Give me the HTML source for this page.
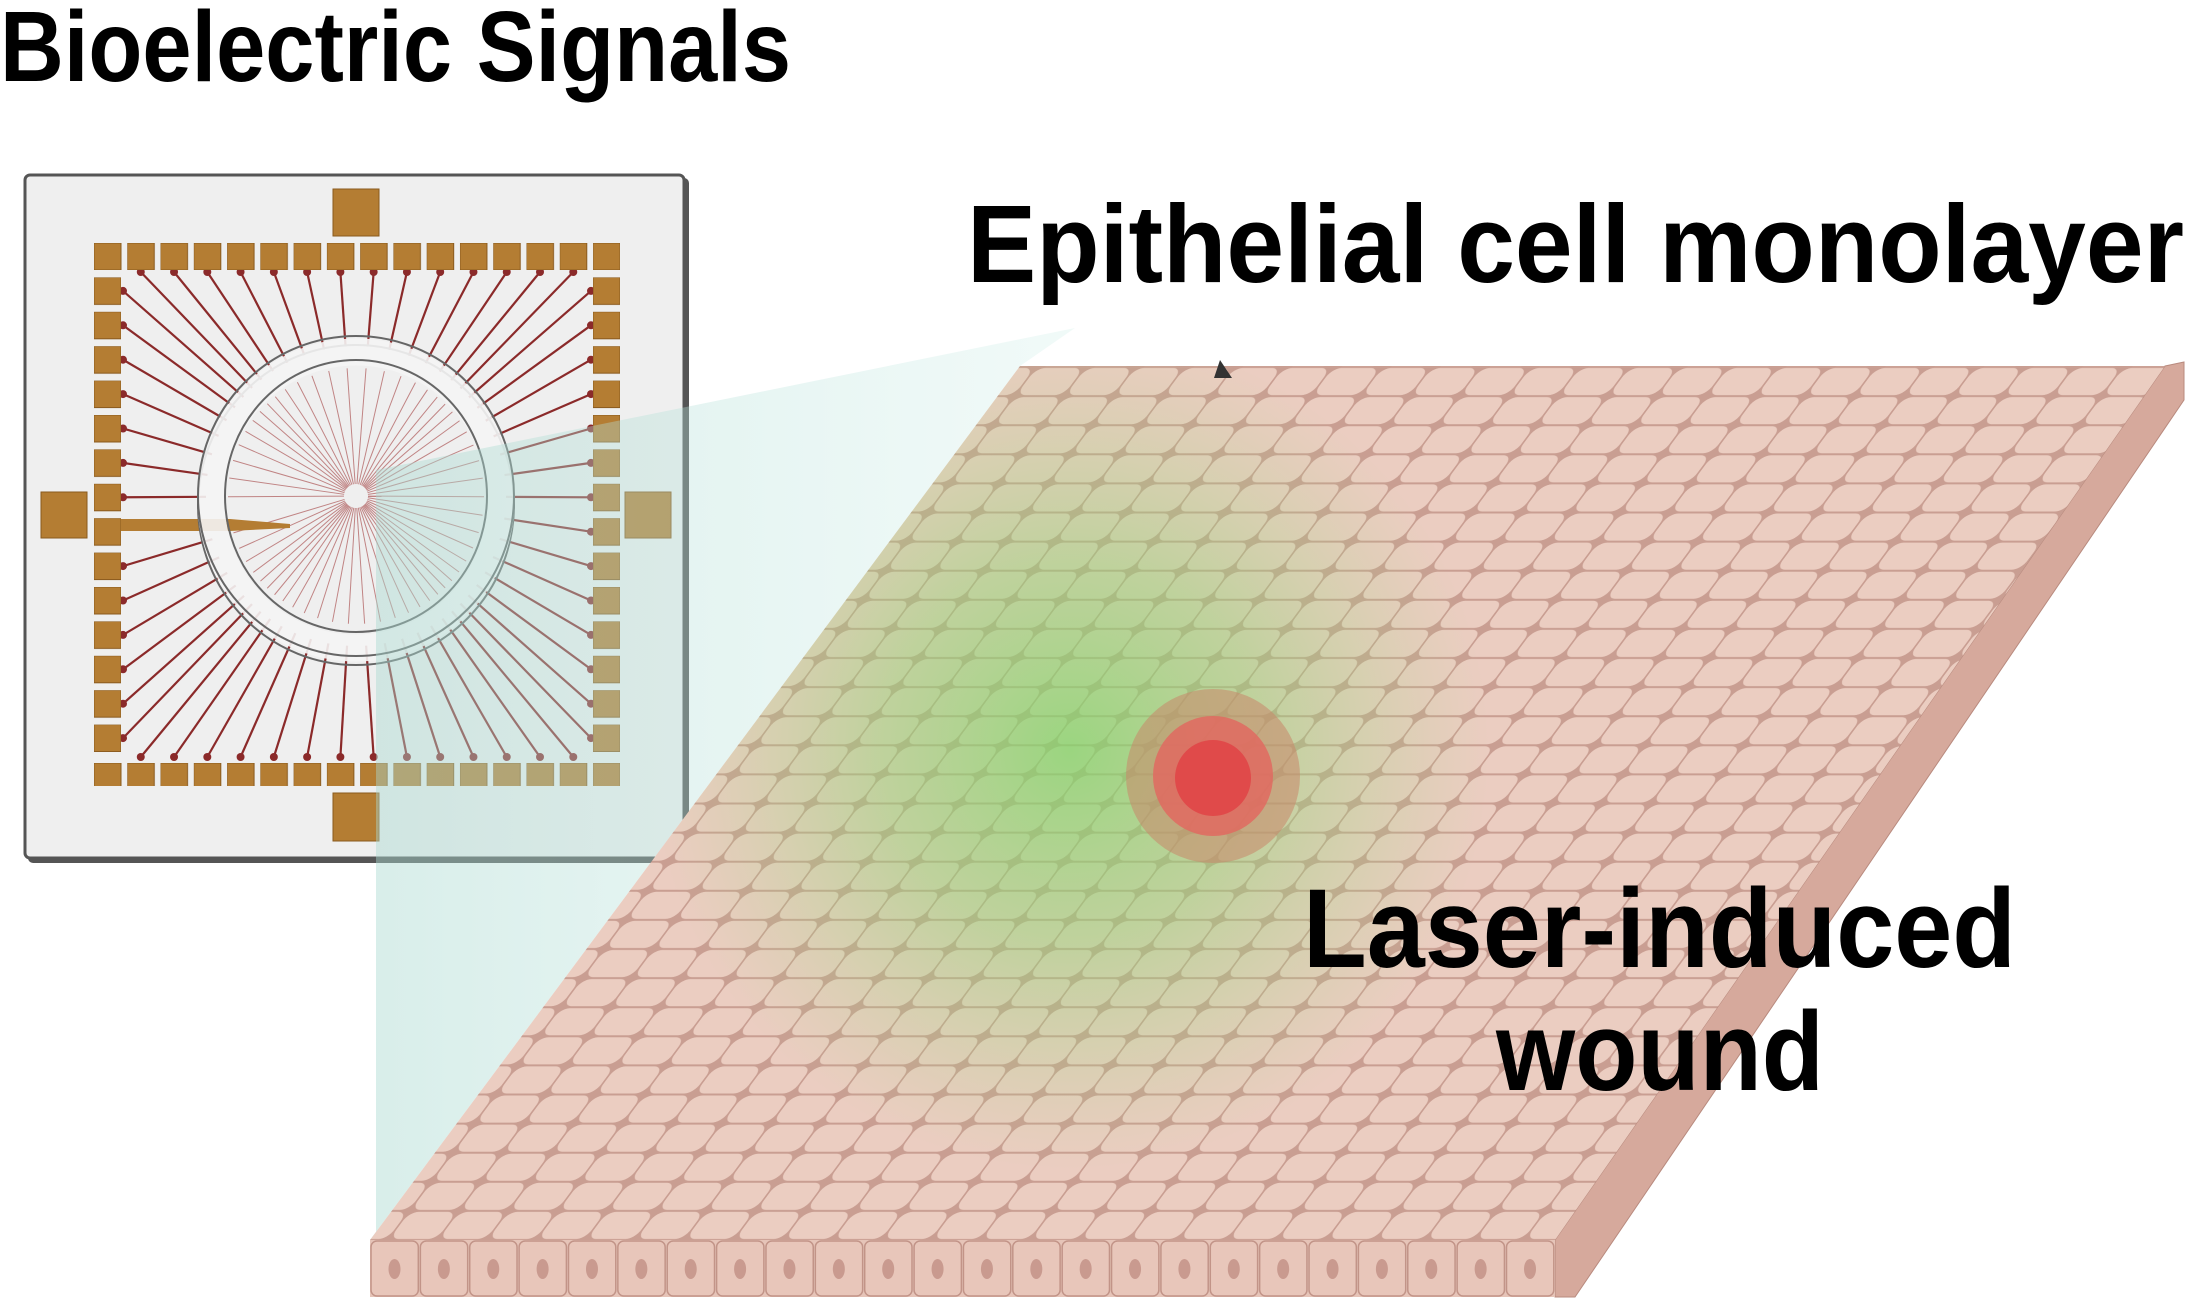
<!DOCTYPE html>
<html><head><meta charset="utf-8"><style>
html,body{margin:0;padding:0;background:#fff;}
svg{display:block;}
text{font-family:"Liberation Sans",sans-serif;font-weight:bold;fill:#000;}
</style></head><body>
<svg width="2192" height="1308" viewBox="0 0 2192 1308" xmlns="http://www.w3.org/2000/svg">
<defs>
  <pattern id="cells" patternUnits="userSpaceOnUse" x="370" y="1240" width="49.4" height="29.1" patternTransform="skewX(-36.6)">
    <rect x="0" y="0" width="49.4" height="29.1" fill="#c99e92"/>
    <rect x="1" y="1" width="47.4" height="27.1" rx="9" fill="#ebcdc1"/>
  </pattern>
  <pattern id="padH" patternUnits="userSpaceOnUse" x="94" y="243" width="33.27" height="40">
    <rect x="0" y="0" width="27" height="27" fill="#b47d33" stroke="#8a5a1e" stroke-width="1"/>
  </pattern>
  <pattern id="padVL" patternUnits="userSpaceOnUse" x="94" y="243" width="40" height="34.4">
    <rect x="0" y="0" width="27" height="27" fill="#b47d33" stroke="#8a5a1e" stroke-width="1"/>
  </pattern>
  <pattern id="padVR" patternUnits="userSpaceOnUse" x="593" y="243" width="40" height="34.4">
    <rect x="0" y="0" width="27" height="27" fill="#b47d33" stroke="#8a5a1e" stroke-width="1"/>
  </pattern>
  <radialGradient id="green" cx="1070" cy="750" r="420" gradientUnits="userSpaceOnUse">
    <stop offset="0" stop-color="#80d86a" stop-opacity="0.75"/>
    <stop offset="0.45" stop-color="#93d678" stop-opacity="0.5"/>
    <stop offset="1" stop-color="#a8d88a" stop-opacity="0"/>
  </radialGradient>
  <linearGradient id="teal" x1="0" y1="0" x2="1" y2="0">
    <stop offset="0" stop-color="#a9d9d0" stop-opacity="0.45"/>
    <stop offset="1" stop-color="#c6ebe4" stop-opacity="0.25"/>
  </linearGradient>
  <clipPath id="topclip"><polygon points="1020,366 2165,366 1555,1240 370,1240"/></clipPath>
</defs>

<text x="0" y="81" font-size="100" textLength="791" lengthAdjust="spacingAndGlyphs">Bioelectric Signals</text>

<!-- chip board -->
<rect x="28" y="178" width="661" height="685" rx="5" fill="#555"/>
<rect x="25" y="175" width="659" height="683" rx="5" fill="#efefef" stroke="#555" stroke-width="3"/>
<g id="inner" stroke="#b56a6a" stroke-width="1" fill="none" opacity="0.8"></g>
<g id="traces" stroke="#8b2a2a" stroke-width="2.2" fill="none"></g>
<!-- pads -->
<rect x="94" y="243" width="526" height="27" fill="url(#padH)"/>
<rect x="94" y="759" width="526" height="27" fill="url(#padH)"/>
<rect x="94" y="277" width="27" height="475" fill="url(#padVL)"/>
<rect x="593" y="277" width="27" height="475" fill="url(#padVR)"/>
<rect x="333" y="189" width="46" height="47" fill="#b47d33" stroke="#8a5a1e"/>
<rect x="333" y="793" width="46" height="48" fill="#b47d33" stroke="#8a5a1e"/>
<rect x="41" y="492" width="46" height="46" fill="#b47d33" stroke="#8a5a1e"/>
<rect x="625" y="492" width="46" height="46" fill="#b47d33" stroke="#8a5a1e"/>
<polygon points="121,519 230,519 290,524 290,528 230,531 121,531" fill="#b47d33"/>
<!-- ring -->
<ellipse cx="356" cy="505" rx="158" ry="160" fill="none" stroke="#666" stroke-width="2"/>
<ellipse cx="356" cy="500" rx="145" ry="148" fill="none" stroke="#f4f4f4" stroke-width="27" opacity="0.9"/>
<ellipse cx="356" cy="496" rx="158" ry="160" fill="none" stroke="#666" stroke-width="2"/>
<ellipse cx="356" cy="496" rx="131" ry="136" fill="none" stroke="#666" stroke-width="2"/>

<!-- teal beam -->
<polygon points="376,470 1075,328 1020,366 370,1240 376,1297" fill="url(#teal)"/>

<!-- monolayer -->
<polygon points="2165,366 2184,362 2184,400 1575,1297 1555,1297 1555,1240" fill="#d6a99c" stroke="#b88a7e" stroke-width="1"/>
<polygon points="1020,366 2165,366 1555,1240 370,1240" fill="url(#cells)"/>
<g clip-path="url(#topclip)">
  <ellipse cx="1070" cy="750" rx="430" ry="440" fill="url(#green)"/>
</g>
<rect x="370" y="1240" width="1185" height="57" fill="#e6c4b8"/>
<g id="front2"></g>

<!-- wound -->
<circle cx="1213" cy="776" r="87" fill="#c9876a" opacity="0.55"/>
<circle cx="1213" cy="776" r="60" fill="#e06a60" opacity="0.85"/>
<circle cx="1213" cy="778" r="38" fill="#e04a4a"/>

<polygon points="1220,360 1232,378 1214,378" fill="#333"/>

<text x="967" y="282" font-size="110" textLength="1217" lengthAdjust="spacingAndGlyphs">Epithelial cell monolayer</text>
<text x="1303" y="967" font-size="112" textLength="713" lengthAdjust="spacingAndGlyphs">Laser-induced</text>
<text x="1496" y="1090" font-size="112" textLength="328" lengthAdjust="spacingAndGlyphs">wound</text>

<script>
(function(){
 var ns="http://www.w3.org/2000/svg";
 var g=document.getElementById('traces');
 var gi=document.getElementById('inner');
 var cx=356,cy=496;
 function mk(p,x1,y1,x2,y2){var l=document.createElementNS(ns,'line');
   l.setAttribute('x1',x1);l.setAttribute('y1',y1);l.setAttribute('x2',x2);l.setAttribute('y2',y2);p.appendChild(l);}
 function line(x1,y1){
   var dx=cx-x1,dy=cy-y1,d=Math.sqrt(dx*dx+dy*dy);
   var x2=cx-dx/d*150,y2=cy-dy/d*150;
   mk(g,x1,y1,x2,y2);
   mk(gi,cx-dx/d*128,cy-dy/d*128,cx-dx/d*12,cy-dy/d*12);
   var c=document.createElementNS(ns,'circle');
   c.setAttribute('cx',x1);c.setAttribute('cy',y1);c.setAttribute('r',4);c.setAttribute('fill','#8b2a2a');c.setAttribute('stroke','none');
   g.appendChild(c);
 }
 for(var i=1;i<15;i++){var x=94+i*33.27+13.5;line(x,272);line(x,757);}
 for(var j=1;j<15;j++){var y=243+j*34.4+13.5;if(j!=8){line(123,y);}line(591,y);}
 var f=document.getElementById('front2');
 for(var k=0;k<24;k++){
   var x0=370+k*49.37;
   var r=document.createElementNS(ns,'rect');
   r.setAttribute('x',x0+1);r.setAttribute('y',1241);r.setAttribute('width',47.3);r.setAttribute('height',55);r.setAttribute('rx',6);
   r.setAttribute('fill','#e8c6ba');r.setAttribute('stroke','#c29488');r.setAttribute('stroke-width','1.5');
   f.appendChild(r);
   var e=document.createElementNS(ns,'ellipse');
   e.setAttribute('cx',x0+24.5);e.setAttribute('cy',1269);e.setAttribute('rx',6);e.setAttribute('ry',10);e.setAttribute('fill','#c99a8f');
   f.appendChild(e);
 }
})();
</script>
</svg>
</body></html>
